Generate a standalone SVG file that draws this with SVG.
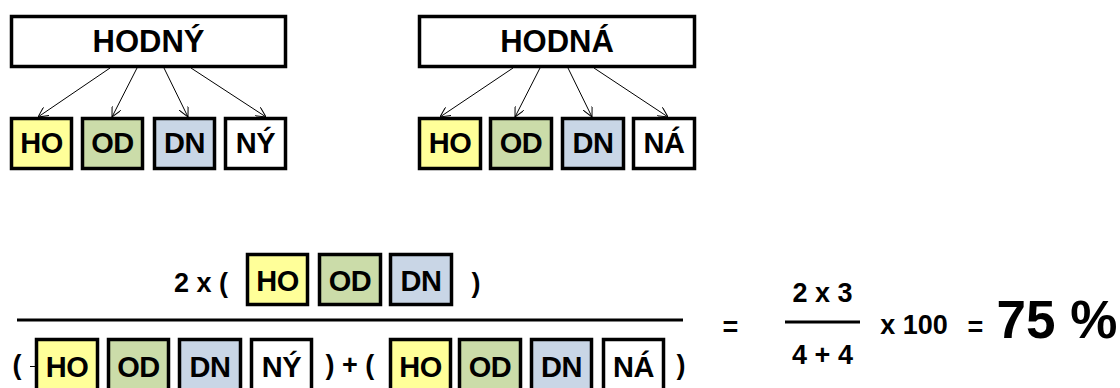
<svg xmlns="http://www.w3.org/2000/svg" width="1120" height="388" viewBox="0 0 1120 388">
<style>
text{font-family:"Liberation Sans",Arial,Helvetica,sans-serif;font-weight:bold;fill:#000;text-anchor:middle}
.box{stroke:#000;stroke-width:3.5}
.w{fill:#fff}.y{fill:#ffff99}.g{fill:#cbdca9}.b{fill:#c9d6e6}
.big{font-size:31px}.t{font-size:29px;letter-spacing:-0.5px}.f{font-size:27px}.p{font-size:53px}
.conn line{stroke:#000;stroke-width:1;marker-end:url(#ah)}
.bar{stroke:#000;stroke-width:3}
</style>
<defs>
<marker id="ah" viewBox="0 0 10 10" refX="10" refY="5" markerWidth="10" markerHeight="10" markerUnits="userSpaceOnUse" orient="auto">
<path d="M0,0 L10,5 L0,10" fill="none" stroke="#000" stroke-width="1"/>
</marker>
</defs>
<rect width="1120" height="388" fill="#fff"/>

<g id="hodny"><rect class="box w" x="11.5" y="16.5" width="274" height="50"/><text class="big" x="148.5" y="52">HODNÝ</text></g>
<g id="l-ho"><rect class="box y" x="11.5" y="118.5" width="60" height="50"/><text class="t" x="41.5" y="153">HO</text></g>
<g id="l-od"><rect class="box g" x="82.5" y="118.5" width="60" height="50"/><text class="t" x="112.5" y="153">OD</text></g>
<g id="l-dn"><rect class="box b" x="154.5" y="118.5" width="60" height="50"/><text class="t" x="184.5" y="153">DN</text></g>
<g id="l-ny"><rect class="box w" x="225.5" y="118.5" width="60" height="50"/><text class="t" x="255.5" y="153">NÝ</text></g>

<g id="hodna"><rect class="box w" x="419.5" y="16.5" width="275" height="50"/><text class="big" x="557" y="52">HODNÁ</text></g>
<g id="r-ho"><rect class="box y" x="419.5" y="118.5" width="61" height="50"/><text class="t" x="450" y="153">HO</text></g>
<g id="r-od"><rect class="box g" x="490.5" y="118.5" width="61" height="50"/><text class="t" x="521" y="153">OD</text></g>
<g id="r-dn"><rect class="box b" x="562.5" y="118.5" width="61" height="50"/><text class="t" x="593" y="153">DN</text></g>
<g id="r-na"><rect class="box w" x="633.5" y="118.5" width="61" height="50"/><text class="t" x="664" y="153">NÁ</text></g>

<g class="conn" id="connectors">
<line x1="110" y1="68" x2="38" y2="117"/>
<line x1="137" y1="68" x2="112" y2="117"/>
<line x1="164" y1="68" x2="188" y2="117"/>
<line x1="191" y1="68" x2="266" y2="117"/>
<line x1="513" y1="68" x2="440" y2="117"/>
<line x1="540" y1="68" x2="515" y2="117"/>
<line x1="568" y1="68" x2="592" y2="117"/>
<line x1="594" y1="68" x2="668" y2="117"/>
</g>

<g id="formula">
<text class="f" x="201" y="292">2 x (</text>
<g id="n-ho"><rect class="box y" x="247.5" y="254.5" width="60" height="50"/><text class="t" x="277.5" y="291">HO</text></g>
<g id="n-od"><rect class="box g" x="319.5" y="254.5" width="61" height="50"/><text class="t" x="350" y="291">OD</text></g>
<g id="n-dn"><rect class="box b" x="390.5" y="254.5" width="61" height="50"/><text class="t" x="421" y="291">DN</text></g>
<text class="f" x="476" y="292">)</text>

<line class="bar" x1="17" y1="320" x2="683" y2="320"/>

<text class="f" x="17" y="374">(</text>
<line x1="30" y1="366.5" x2="35" y2="366.5" stroke="#000" stroke-width="1"/>
<g id="d1-ho"><rect class="box y" x="36.5" y="339.5" width="61" height="51"/><text class="t" x="67" y="377">HO</text></g>
<g id="d1-od"><rect class="box g" x="108.5" y="339.5" width="60" height="51"/><text class="t" x="138.5" y="377">OD</text></g>
<g id="d1-dn"><rect class="box b" x="179.5" y="339.5" width="61" height="51"/><text class="t" x="210" y="377">DN</text></g>
<g id="d1-ny"><rect class="box w" x="251.5" y="339.5" width="60" height="51"/><text class="t" x="281.5" y="377">NÝ</text></g>
<text class="f" x="350" y="374">) + (</text>
<g id="d2-ho"><rect class="box y" x="390.5" y="339.5" width="60" height="51"/><text class="t" x="420.5" y="377">HO</text></g>
<g id="d2-od"><rect class="box g" x="459.5" y="339.5" width="61" height="51"/><text class="t" x="490" y="377">OD</text></g>
<g id="d2-dn"><rect class="box b" x="531.5" y="339.5" width="60" height="51"/><text class="t" x="561.5" y="377">DN</text></g>
<g id="d2-na"><rect class="box w" x="603.5" y="339.5" width="60" height="51"/><text class="t" x="633.5" y="377">NÁ</text></g>
<text class="f" x="681" y="374">)</text>

<text class="f" x="730.5" y="336">=</text>
<text class="f" x="822.5" y="302">2 x 3</text>
<line class="bar" x1="785" y1="322" x2="860" y2="322"/>
<text class="f" x="822.5" y="364">4 + 4</text>
<text class="f" x="914" y="334">x 100</text>
<text class="f" x="975.5" y="336">=</text>
<text class="p" x="1057" y="338">75 %</text>
</g>
</svg>
